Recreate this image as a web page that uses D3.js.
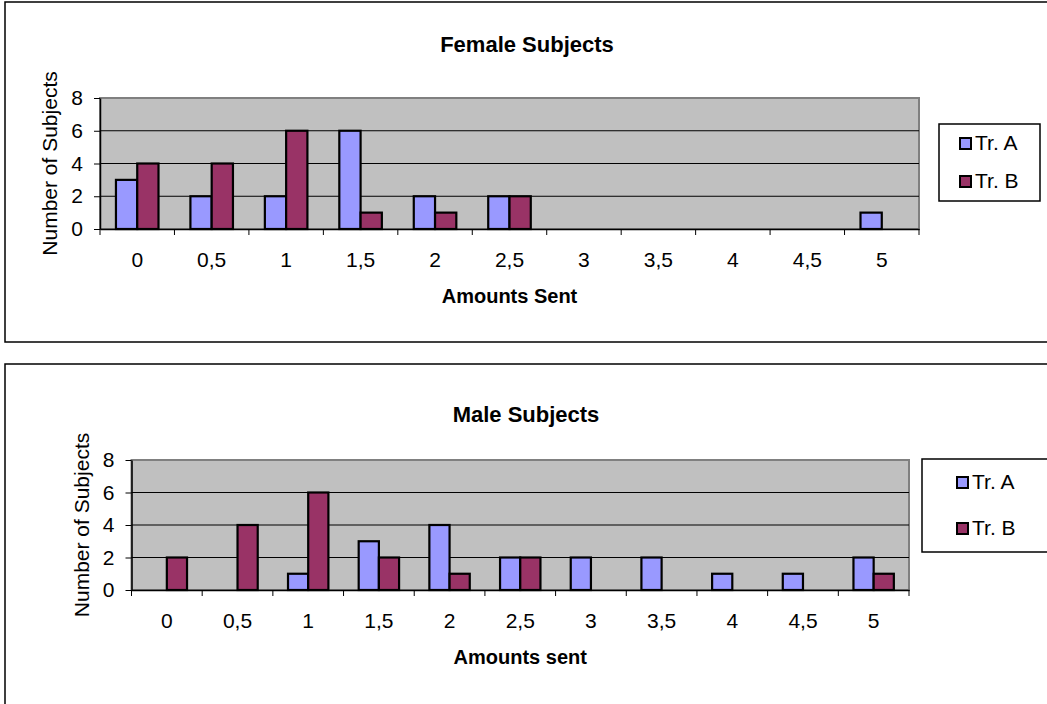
<!DOCTYPE html>
<html>
<head>
<meta charset="utf-8">
<script src="https://cdn.jsdelivr.net/npm/d3@7"></script>
<style>
body { margin: 0; background: #fff; }
svg { display: block; font-family: "Liberation Sans", Arial, sans-serif; }
</style>
</head>
<body>
<svg id="chart" width="1047" height="704"></svg>
<script>
// data
const amounts = ["0", "0,5", "1", "1,5", "2", "2,5", "3", "3,5", "4", "4,5", "5"]
const series = ["Tr. A", "Tr. B"]
const femaleA = [3, 2, 2, 6, 2, 2, 0, 0, 0, 0, 1]
const femaleB = [4, 4, 6, 1, 1, 2, 0, 0, 0, 0, 0]
const maleA = [0, 0, 1, 3, 4, 2, 2, 2, 1, 1, 2]
const maleB = [2, 4, 6, 2, 1, 2, 0, 0, 0, 0, 1]
const yTicks = [0, 2, 4, 6, 8]

const color = d3.scaleOrdinal(series, ["#9999ff", "#993366"])

const panels = [
    {title: "Female Subjects", xTitle: "Amounts Sent", values: [femaleA, femaleB],
     box: {x: 5, y: 2, w: 1080, h: 340}, titleX: 527, titleY: 52,
     plot: {l: 100, t: 98, r: 919, b: 229},
     legend: {x: 939, y: 124, w: 101, h: 77, sx: 21, rows: [14, 52]}},
    {title: "Male Subjects", xTitle: "Amounts sent", values: [maleA, maleB],
     box: {x: 5, y: 364, w: 1080, h: 380}, titleX: 526, titleY: 422,
     plot: {l: 131.5, t: 460, r: 909, b: 590},
     legend: {x: 922, y: 459, w: 160, h: 93, sx: 35, rows: [18, 64]}}
]

const svg = d3.select('#chart')

panels.forEach(function(p){
    const g = svg.append('g')

    g.append('rect')
        .attr('x', p.box.x).attr('y', p.box.y)
        .attr('width', p.box.w).attr('height', p.box.h)
        .attr('fill', '#fff').attr('stroke', '#000').attr('stroke-width', 1.5)

    const x0 = d3.scaleBand(amounts, [p.plot.l, p.plot.r])
    const x1 = d3.scaleBand(series, [0, x0.bandwidth()]).paddingInner(0).paddingOuter(0.75)
    const y = d3.scaleLinear([0, 8], [p.plot.b, p.plot.t])

    // plot area
    g.append('rect')
        .attr('x', p.plot.l).attr('y', p.plot.t)
        .attr('width', p.plot.r - p.plot.l).attr('height', p.plot.b - p.plot.t)
        .attr('fill', '#c0c0c0').attr('stroke', '#808080').attr('stroke-width', 2)

    g.append('g')
        .selectAll('line')
        .data(yTicks.filter(d => d > 0 && d < 8))
        .join('line')
        .attr('x1', p.plot.l).attr('x2', p.plot.r)
        .attr('y1', d => y(d)).attr('y2', d => y(d))
        .attr('stroke', '#000').attr('stroke-width', 1)

    // bars
    const bars = []
    p.values.forEach(function(vals, si){
        vals.forEach(function(v, ci){
            bars.push({cat: amounts[ci], s: series[si], v: v})
        })
    })
    g.append('g')
        .selectAll('rect')
        .data(bars.filter(d => d.v > 0))
        .join('rect')
        .attr('x', d => x0(d.cat) + x1(d.s))
        .attr('y', d => y(d.v))
        .attr('width', x1.bandwidth())
        .attr('height', d => y(0) - y(d.v))
        .attr('fill', d => color(d.s))
        .attr('stroke', '#000').attr('stroke-width', 2.2)

    // y axis
    const yAxis = d3.axisLeft(y).tickValues(yTicks).tickSize(6).tickPadding(11).tickSizeOuter(0)
    const ya = g.append('g').attr('transform', `translate(${p.plot.l},0)`).call(yAxis)
    ya.select('.domain').attr('stroke-width', 1.5)
    ya.selectAll('text').attr('font-size', 21).attr('fill', '#000')
        .attr('font-family', '"Liberation Sans", Arial, sans-serif')

    // x axis: labels at centres, tick marks at category edges
    const xAxis = d3.axisBottom(x0).tickSize(0).tickPadding(23).tickSizeOuter(0)
    const xa = g.append('g').attr('transform', `translate(0,${p.plot.b})`).call(xAxis)
    xa.select('.domain').attr('stroke-width', 1.5)
    xa.selectAll('text').attr('font-size', 21).attr('fill', '#000')
        .attr('font-family', '"Liberation Sans", Arial, sans-serif')
    g.append('g')
        .selectAll('line')
        .data(amounts.map(d => x0(d)).concat([p.plot.r]))
        .join('line')
        .attr('x1', d => d).attr('x2', d => d)
        .attr('y1', p.plot.b).attr('y2', p.plot.b + 6)
        .attr('stroke', '#000').attr('stroke-width', 1)

    // titles
    g.append('text')
        .text(p.title)
        .attr('x', p.titleX).attr('y', p.titleY)
        .attr('text-anchor', 'middle')
        .attr('font-size', 22).attr('font-weight', 'bold')

    g.append('text')
        .text(p.xTitle)
        .attr('x', (p.plot.l + p.plot.r) / 2).attr('y', p.plot.b + 74)
        .attr('text-anchor', 'middle')
        .attr('font-size', 20).attr('font-weight', 'bold')

    g.append('text')
        .text('Number of Subjects')
        .attr('transform', `translate(${p.plot.l - 43},${(p.plot.t + p.plot.b) / 2}) rotate(-90)`)
        .attr('text-anchor', 'middle')
        .attr('font-size', 21)

    // legend
    const lg = g.append('g').attr('transform', `translate(${p.legend.x},${p.legend.y})`)
    lg.append('rect')
        .attr('width', p.legend.w).attr('height', p.legend.h)
        .attr('fill', '#fff').attr('stroke', '#000').attr('stroke-width', 1.5)
    const item = lg.selectAll('g.item')
        .data(series)
        .join('g')
        .attr('class', 'item')
        .attr('transform', (d, i) => `translate(${p.legend.sx},${p.legend.rows[i]})`)
    item.append('rect')
        .attr('width', 11).attr('height', 11)
        .attr('fill', d => color(d))
        .attr('stroke', '#000').attr('stroke-width', 2)
    item.append('text')
        .text(d => d)
        .attr('x', 15).attr('y', 12)
        .attr('font-size', 21)
})
</script>
</body>
</html>
